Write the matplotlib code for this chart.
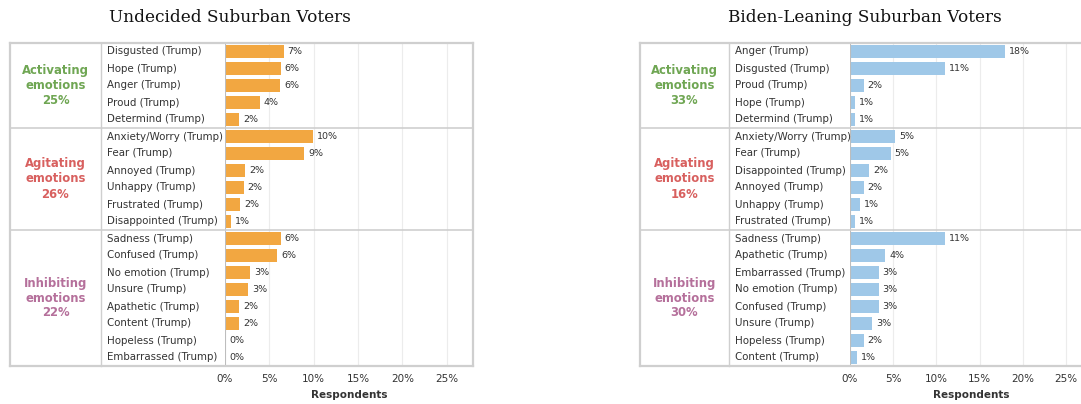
import matplotlib.pyplot as plt
import matplotlib.transforms as mtransforms

W, H = 1081, 404

# emotion groups: name, colour, share for each audience
group_names = ["Activating\nemotions", "Agitating\nemotions", "Inhibiting\nemotions"]
group_colors = ["#6fa653", "#d8605f", "#b5709b"]

undecided_groups = [25, 26, 22]
undecided_sizes = [5, 6, 8]
undecided_labels = [
    "Disgusted (Trump)", "Hope (Trump)", "Anger (Trump)", "Proud (Trump)", "Determind (Trump)",
    "Anxiety/Worry (Trump)", "Fear (Trump)", "Annoyed (Trump)", "Unhappy (Trump)",
    "Frustrated (Trump)", "Disappointed (Trump)",
    "Sadness (Trump)", "Confused (Trump)", "No emotion (Trump)", "Unsure (Trump)",
    "Apathetic (Trump)", "Content (Trump)", "Hopeless (Trump)", "Embarrassed (Trump)",
]
undecided_values = [6.6, 6.3, 6.2, 3.9, 1.6,
                    9.9, 8.9, 2.3, 2.1, 1.7, 0.7,
                    6.3, 5.9, 2.8, 2.6, 1.6, 1.6, 0.0, 0.0]

biden_groups = [33, 16, 30]
biden_sizes = [5, 6, 8]
biden_labels = [
    "Anger (Trump)", "Disgusted (Trump)", "Proud (Trump)", "Hope (Trump)", "Determind (Trump)",
    "Anxiety/Worry (Trump)", "Fear (Trump)", "Disappointed (Trump)", "Annoyed (Trump)",
    "Unhappy (Trump)", "Frustrated (Trump)",
    "Sadness (Trump)", "Apathetic (Trump)", "Embarrassed (Trump)", "No emotion (Trump)",
    "Confused (Trump)", "Unsure (Trump)", "Hopeless (Trump)", "Content (Trump)",
]
biden_values = [17.9, 11.0, 1.6, 0.6, 0.6,
                5.2, 4.7, 2.2, 1.6, 1.2, 0.6,
                11.0, 4.1, 3.3, 3.3, 3.3, 2.6, 1.6, 0.8]

ticks = [0, 5, 10, 15, 20, 25]

fig = plt.figure(figsize=(W / 100, H / 100), dpi=100)
fig.patch.set_facecolor("white")

BORDER = "#cfcfcf"
TEXT = "#333333"


def panel(title, labels, values, sizes, shares, color,
          box_left, col_div, zero_x, px_per_pct, title_x):
    top, bottom = 43, 366
    n = len(labels)
    xmax = 28
    right = zero_x + xmax * px_per_pct

    ax = fig.add_axes([zero_x / W, 1 - bottom / H, (right - zero_x) / W, (bottom - top) / H])
    ax.set_xlim(0, xmax)
    ax.set_ylim(n, 0)
    for s in ax.spines.values():
        s.set_visible(False)
    ax.set_yticks([])
    ax.set_xticks(ticks)
    ax.set_xticklabels([f"{t}%" for t in ticks], fontsize=7.5, color=TEXT)
    ax.tick_params(axis="x", length=0, pad=6)
    ax.set_xlabel("Respondents", fontsize=7.5, color=TEXT, fontweight="bold", labelpad=4)
    for t in ticks[1:]:
        ax.axvline(t, color="#ececec", lw=0.8, zorder=0)
    ax.axvline(0, color="#bdbdbd", lw=0.8, zorder=3)

    rows = [i + 0.5 for i in range(n)]
    ax.barh(rows, values, height=0.78, color=color, zorder=2)
    for y, v in zip(rows, values):
        ax.text(v + 0.45, y, f"{v:.0f}%", va="center", ha="left",
                fontsize=6.8, color=TEXT)

    # table frame, label columns and group separators
    tr = mtransforms.blended_transform_factory(fig.transFigure, ax.transData)
    kw = dict(transform=tr, clip_on=False, color=BORDER, zorder=4)
    ax.plot([box_left / W, right / W], [0, 0], lw=1.6, **kw)
    ax.plot([box_left / W, right / W], [n, n], lw=1.6, **kw)
    ax.plot([box_left / W, box_left / W], [0, n], lw=1.6, **kw)
    ax.plot([col_div / W, col_div / W], [0, n], lw=1.0, **kw)
    if right < W:
        ax.plot([right / W, right / W], [0, n], lw=1.6, **kw)

    start = 0
    for k, size in enumerate(sizes):
        if start > 0:
            ax.plot([box_left / W, right / W], [start, start], lw=1.2, **kw)
        ax.text((box_left + col_div) / 2 / W, start + size / 2,
                f"{group_names[k]}\n{shares[k]}%", transform=tr,
                ha="center", va="center", fontsize=8.4, fontweight="bold",
                color=group_colors[k], linespacing=1.2)
        start += size

    for y, lab in zip(rows, labels):
        ax.text((col_div + 6) / W, y, lab, transform=tr, ha="left", va="center",
                fontsize=7.4, color=TEXT)

    fig.text(title_x / W, 1 - 18 / H, title, ha="center", va="center",
             fontsize=12.2, family="DejaVu Serif", color="#111111")
    return ax


panel("Undecided Suburban Voters", undecided_labels, undecided_values,
      undecided_sizes, undecided_groups, "#f2a741",
      box_left=10, col_div=101, zero_x=225, px_per_pct=8.87, title_x=230)
panel("Biden-Leaning Suburban Voters", biden_labels, biden_values,
      biden_sizes, biden_groups, "#9fc8e8",
      box_left=640, col_div=729, zero_x=850, px_per_pct=8.64, title_x=865)

fig.savefig("out.png", dpi=100, facecolor="white")
